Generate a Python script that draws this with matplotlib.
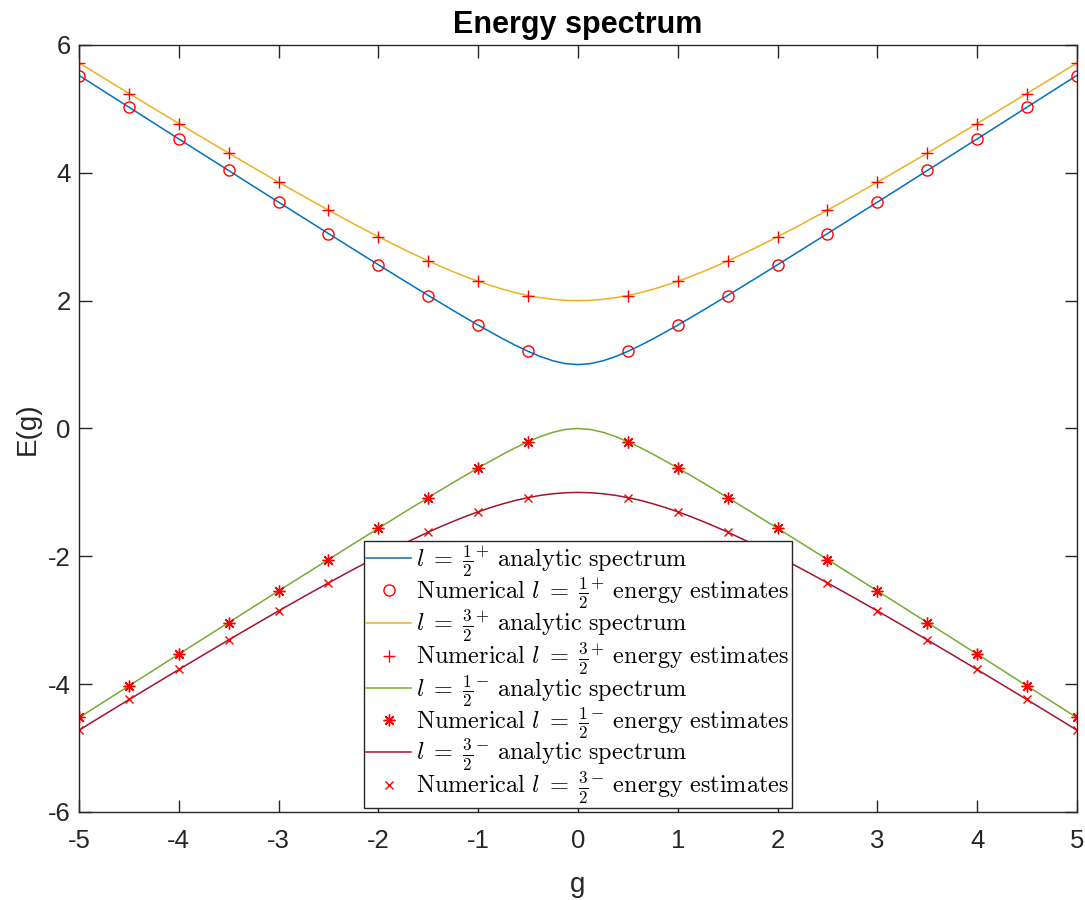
import numpy as np
import matplotlib
matplotlib.use("Agg")
import matplotlib.pyplot as plt

plt.rcParams['font.family'] = ['Liberation Sans', 'DejaVu Sans']
plt.rcParams['mathtext.fontset'] = 'cm'
plt.rcParams['axes.unicode_minus'] = False

# analytic spectrum (finer spacing around g = 0 where the curves bend)
g_line = [-5.0, -4.75, -4.5, -4.25, -4.0, -3.75, -3.5, -3.25, -3.0, -2.75, -2.5, -2.25, -2.0, -1.75,
          -1.5, -1.375, -1.25, -1.125, -1.0, -0.875, -0.75, -0.625, -0.5, -0.375, -0.25, -0.125,
          0.0,
          0.125, 0.25, 0.375, 0.5, 0.625, 0.75, 0.875, 1.0, 1.125, 1.25, 1.375, 1.5,
          1.75, 2.0, 2.25, 2.5, 2.75, 3.0, 3.25, 3.5, 3.75, 4.0, 4.25, 4.5, 4.75, 5.0]
E_half_plus = [5.525, 5.276, 5.028, 4.779, 4.531, 4.283, 4.036, 3.788, 3.541, 3.295, 3.050, 2.805, 2.562, 2.320,
               2.081, 1.963, 1.846, 1.731, 1.618, 1.508, 1.401, 1.300, 1.207, 1.125, 1.059, 1.015,
               1.000,
               1.015, 1.059, 1.125, 1.207, 1.300, 1.401, 1.508, 1.618, 1.731, 1.846, 1.963, 2.081,
               2.320, 2.562, 2.805, 3.050, 3.295, 3.541, 3.788, 4.036, 4.283, 4.531, 4.779, 5.028, 5.276, 5.525]
E_3half_plus = [5.720, 5.481, 5.243, 5.007, 4.772, 4.539, 4.308, 4.080, 3.854, 3.633, 3.416, 3.204, 3.000, 2.805,
                2.621, 2.535, 2.453, 2.375, 2.303, 2.237, 2.177, 2.125, 2.081, 2.046, 2.021, 2.005,
                2.000,
                2.005, 2.021, 2.046, 2.081, 2.125, 2.177, 2.237, 2.303, 2.375, 2.453, 2.535, 2.621,
                2.805, 3.000, 3.204, 3.416, 3.633, 3.854, 4.080, 4.308, 4.539, 4.772, 5.007, 5.243, 5.481, 5.720]
E_half_minus = [-4.525, -4.276, -4.028, -3.779, -3.531, -3.283, -3.036, -2.788, -2.541, -2.295, -2.050, -1.805, -1.562, -1.320,
                -1.081, -0.963, -0.846, -0.731, -0.618, -0.508, -0.401, -0.300, -0.207, -0.125, -0.059, -0.015,
                0.000,
                -0.015, -0.059, -0.125, -0.207, -0.300, -0.401, -0.508, -0.618, -0.731, -0.846, -0.963, -1.081,
                -1.320, -1.562, -1.805, -2.050, -2.295, -2.541, -2.788, -3.036, -3.283, -3.531, -3.779, -4.028, -4.276, -4.525]
E_3half_minus = [-4.720, -4.481, -4.243, -4.007, -3.772, -3.539, -3.308, -3.080, -2.854, -2.633, -2.416, -2.204, -2.000, -1.805,
                 -1.621, -1.535, -1.453, -1.375, -1.303, -1.237, -1.177, -1.125, -1.081, -1.046, -1.021, -1.005,
                 -1.000,
                 -1.005, -1.021, -1.046, -1.081, -1.125, -1.177, -1.237, -1.303, -1.375, -1.453, -1.535, -1.621,
                 -1.805, -2.000, -2.204, -2.416, -2.633, -2.854, -3.080, -3.308, -3.539, -3.772, -4.007, -4.243, -4.481, -4.720]

# numerical estimates at g = -5:0.5:5 (g = 0 not computed)
g_num = [-5.0, -4.5, -4.0, -3.5, -3.0, -2.5, -2.0, -1.5, -1.0, -0.5, 0.5,
         1.0, 1.5, 2.0, 2.5, 3.0, 3.5, 4.0, 4.5, 5.0]
num_half_plus = [5.52, 5.03, 4.53, 4.04, 3.54, 3.05, 2.56, 2.08, 1.62, 1.21, 1.21,
                 1.62, 2.08, 2.56, 3.05, 3.54, 4.04, 4.53, 5.03, 5.52]
num_3half_plus = [5.72, 5.24, 4.77, 4.31, 3.85, 3.42, 3.00, 2.62, 2.30, 2.08, 2.08,
                  2.30, 2.62, 3.00, 3.42, 3.85, 4.31, 4.77, 5.24, 5.72]
num_half_minus = [-4.52, -4.03, -3.53, -3.04, -2.54, -2.05, -1.56, -1.08, -0.62, -0.21, -0.21,
                  -0.62, -1.08, -1.56, -2.05, -2.54, -3.04, -3.53, -4.03, -4.52]
num_3half_minus = [-4.72, -4.24, -3.77, -3.31, -2.85, -2.42, -2.00, -1.62, -1.30, -1.08, -1.08,
                   -1.30, -1.62, -2.00, -2.42, -2.85, -3.31, -3.77, -4.24, -4.72]

fig = plt.figure(figsize=(10.85, 9.0), dpi=100)
ax = fig.add_axes([0.0728, 0.0978, 0.9198, 0.8522])

lw = 1.1
ax.plot(g_line, E_half_plus, color='#0072BD', lw=lw,
        label=r'$l\;=\;\frac{1}{2}^{+}\ \mathrm{analytic\ spectrum}$')
ax.plot(g_num, num_half_plus, 'o', color='red', mfc='none', ms=8, mew=1.0,
        label=r'$\mathrm{Numerical}\ l\;=\;\frac{1}{2}^{+}\ \mathrm{energy\ estimates}$')
ax.plot(g_line, E_3half_plus, color='#EDB120', lw=lw,
        label=r'$l\;=\;\frac{3}{2}^{+}\ \mathrm{analytic\ spectrum}$')
ax.plot(g_num, num_3half_plus, '+', color='red', ms=8.5, mew=1.0,
        label=r'$\mathrm{Numerical}\ l\;=\;\frac{3}{2}^{+}\ \mathrm{energy\ estimates}$')
ax.plot(g_line, E_half_minus, color='#77AC30', lw=lw,
        label=r'$l\;=\;\frac{1}{2}^{-}\ \mathrm{analytic\ spectrum}$')
ax.plot(g_num, num_half_minus, marker=(8, 2, 0), ls='none', color='red', ms=8.5, mew=1.0,
        label=r'$\mathrm{Numerical}\ l\;=\;\frac{1}{2}^{-}\ \mathrm{energy\ estimates}$')
ax.plot(g_line, E_3half_minus, color='#A2142F', lw=lw,
        label=r'$l\;=\;\frac{3}{2}^{-}\ \mathrm{analytic\ spectrum}$')
ax.plot(g_num, num_3half_minus, 'x', color='red', ms=6, mew=1.0,
        label=r'$\mathrm{Numerical}\ l\;=\;\frac{3}{2}^{-}\ \mathrm{energy\ estimates}$')

ax.set_xlim(-5, 5)
ax.set_ylim(-6, 6)
ax.set_xticks(np.arange(-5, 6, 1))
ax.set_yticks(np.arange(-6, 7, 2))
ax.tick_params(direction='in', length=9, width=1, top=True, right=True,
               labelsize=18.5, colors='#262626')
ax.tick_params(axis='x', pad=12)
ax.tick_params(axis='y', pad=6)
for s in ax.spines.values():
    s.set_color('#262626')
    s.set_linewidth(1.0)

ax.set_xlabel('g', fontsize=20, color='#262626', labelpad=14)
ax.set_ylabel('E(g)', fontsize=20, color='#262626', labelpad=5)
ax.set_title('Energy spectrum', fontsize=22, fontweight='bold', pad=9)

leg = ax.legend(loc='lower center', bbox_to_anchor=(0.5, 0.0), fontsize=17.5,
                numpoints=1, handlelength=1.85, handletextpad=0.2,
                labelspacing=-0.15, borderpad=0.1, borderaxespad=0.15,
                fancybox=False, framealpha=1.0, edgecolor='#262626')
leg.get_frame().set_linewidth(1.0)

fig.savefig('out.png', dpi=100)
